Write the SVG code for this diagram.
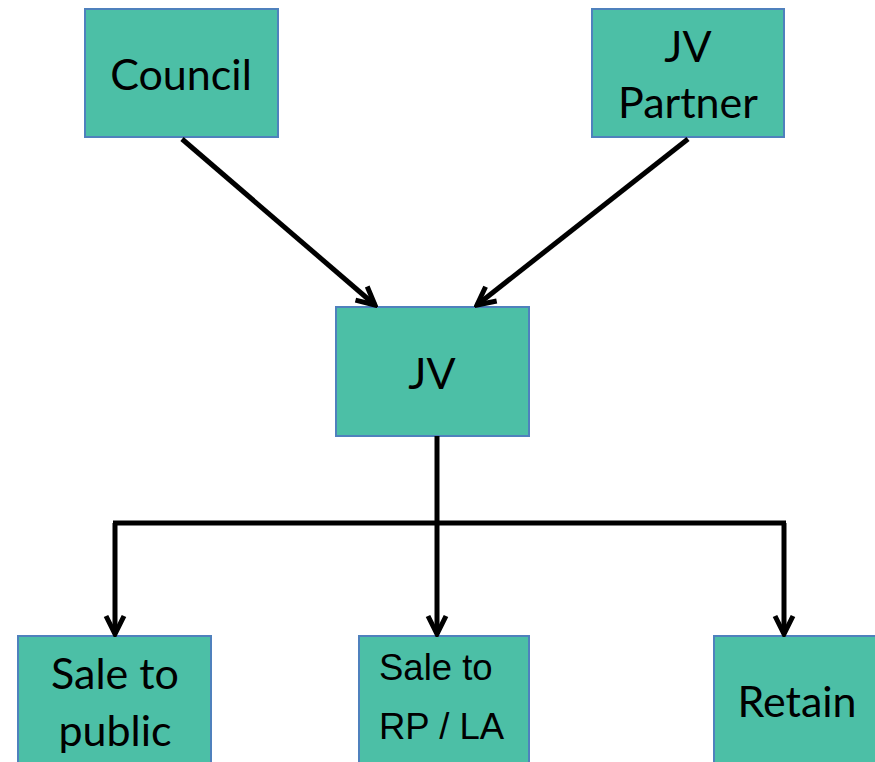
<svg xmlns="http://www.w3.org/2000/svg" width="875" height="762" viewBox="0 0 875 762">
<style>
.box{fill:#4CBFA6;stroke:#4F81BD;stroke-width:2}
.t{font-family:Lato,"Open Sans",sans-serif;font-size:43px;fill:#000;text-anchor:middle}
.a{font-family:"Liberation Sans",Arial,sans-serif;font-size:36.5px;fill:#000}
.c{fill:none;stroke:#000;stroke-width:5}
</style>
<defs>
<marker id="arr" viewBox="0 0 24 24" refX="21" refY="12" markerWidth="24" markerHeight="24" markerUnits="userSpaceOnUse" orient="auto">
<path d="M3,3 L21,12 L3,21" fill="none" stroke="#000" stroke-width="5"/>
</marker>
</defs>
<g id="council"><rect class="box" x="85" y="9" width="193" height="128"/><text class="t" x="181" y="90">Council</text></g>
<g id="jvpartner"><rect class="box" x="592" y="9" width="192" height="128"/><text class="t" x="688" y="62">JV</text><text class="t" x="688" y="118">Partner</text></g>
<g id="jv"><rect class="box" x="336" y="307" width="193" height="129"/><text class="t" x="432" y="389">JV</text></g>
<g id="public"><rect class="box" x="18" y="636" width="193" height="140"/><text class="t" x="115" y="689">Sale to</text><text class="t" x="115" y="746">public</text></g>
<g id="rpla"><rect class="box" x="359" y="636" width="170" height="140"/><text class="a" x="379" y="680">Sale to</text><text class="a" x="379" y="739">RP / LA</text></g>
<g id="retain"><rect class="box" x="714" y="636" width="180" height="140"/><text class="t" x="797" y="717">Retain</text></g>
<g id="connectors">
<line class="c" x1="182" y1="139" x2="375" y2="305" marker-end="url(#arr)"/>
<line class="c" x1="688" y1="139" x2="477" y2="305" marker-end="url(#arr)"/>
<line class="c" x1="437" y1="436" x2="437" y2="523"/>
<line class="c" x1="113" y1="523" x2="786" y2="523"/>
<line class="c" x1="115" y1="523" x2="115" y2="634" marker-end="url(#arr)"/>
<line class="c" x1="437" y1="523" x2="437" y2="634" marker-end="url(#arr)"/>
<line class="c" x1="784" y1="523" x2="784" y2="634" marker-end="url(#arr)"/>
</g>
</svg>
